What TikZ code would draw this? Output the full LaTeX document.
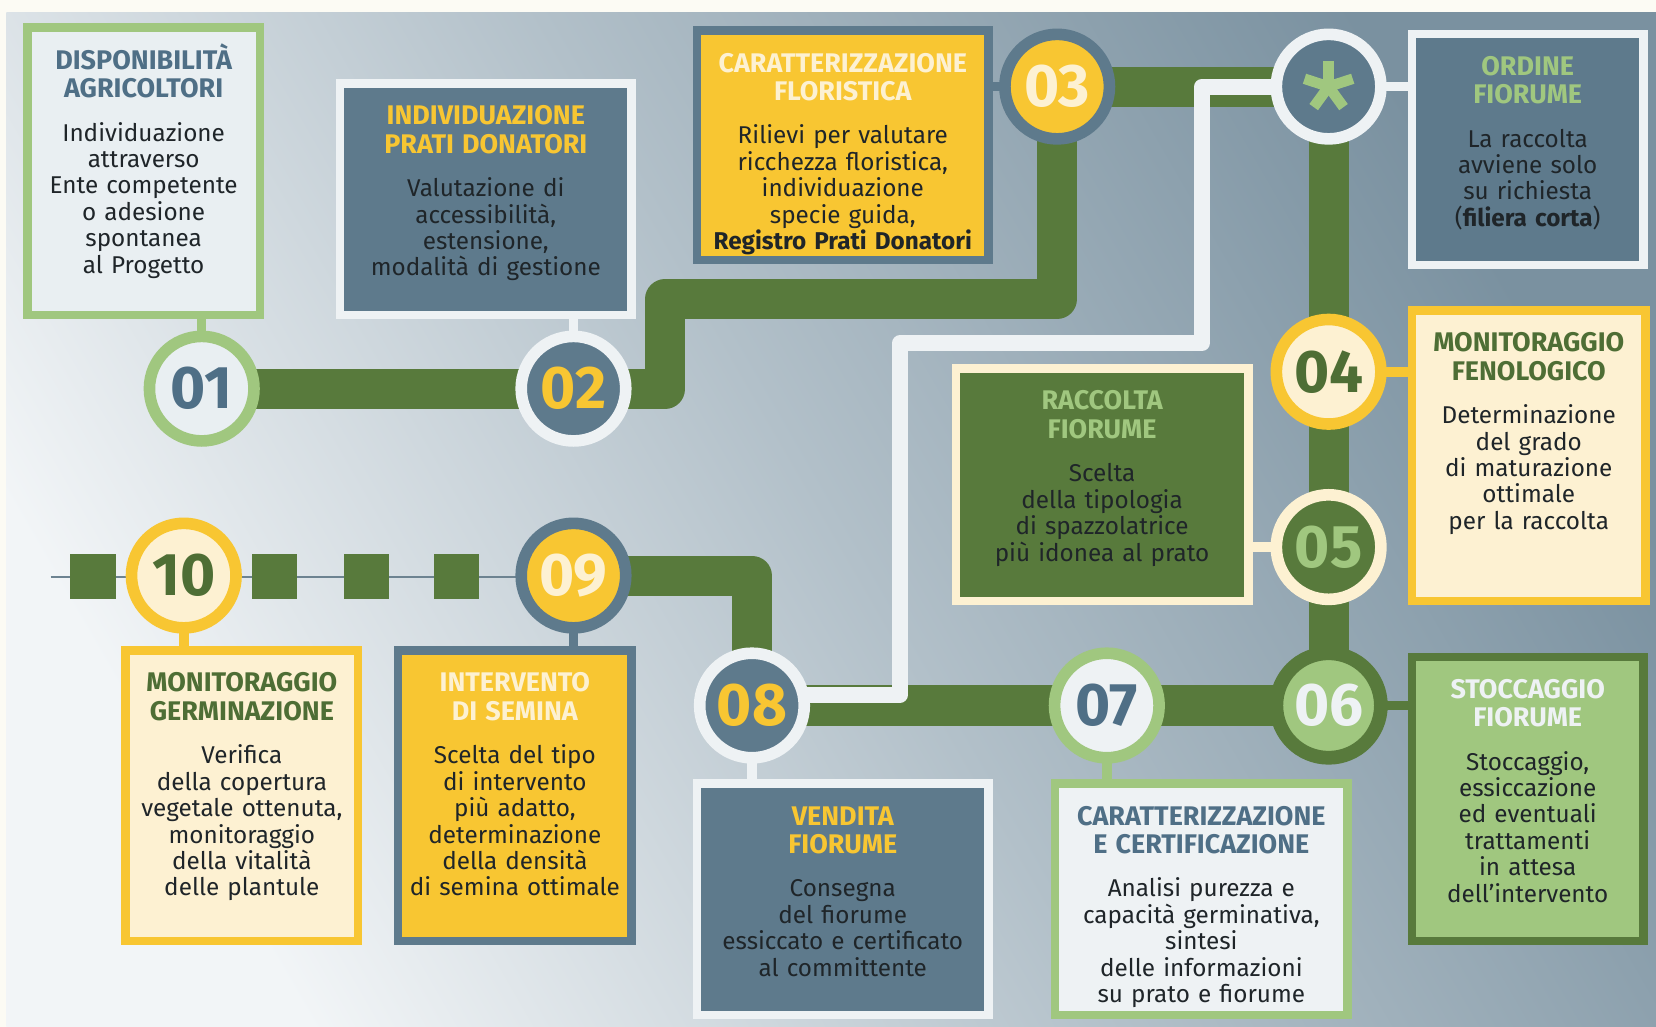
\documentclass[tikz,border=0pt]{standalone}
\usepackage{fontspec}
\setmainfont{Fira Sans}
\newfontfamily\numfont{Fira Sans}
\definecolor{slate}{HTML}{5E7A8C}
\definecolor{slatetxt}{HTML}{4F6F86}
\definecolor{yel}{HTML}{F8C632}
\definecolor{cream}{HTML}{FDF1D2}
\definecolor{dgreen}{HTML}{587A3C}
\definecolor{dgreentxt}{HTML}{4E6E35}
\definecolor{lgreen}{HTML}{A0C77F}
\definecolor{pale}{HTML}{E9EFF2}
\definecolor{paleb}{HTML}{EEF2F4}
\definecolor{bodyc}{HTML}{1F2529}
\definecolor{bgA}{HTML}{F2F5F7}
\definecolor{bgM}{HTML}{B2C0C9}
\definecolor{bgB}{HTML}{7A91A0}
\definecolor{trackc}{HTML}{6D8391}
\tikzset{
  pipe/.style={line width=38pt, draw=dgreen, line join=round},
  wpipe/.style={line width=15pt, draw=paleb, line join=round},
  stub/.style={line width=9pt},
  num/.style={circle, minimum size=99pt, line width=11pt, inner sep=0pt,
    font=\numfont\bfseries\fontsize{57}{57}\selectfont},
  card/.style={rectangle, line width=8pt, inner sep=0pt},
  txt/.style={anchor=north, inner sep=0pt, align=center, text width=280pt,
    text=bodyc, font=\fontsize{23}{25}\selectfont},
  sq/.style={rectangle, fill=dgreen, minimum size=43pt, inner sep=0pt},
  track/.style={line width=2pt, draw=trackc}
}
\newcommand{\cardtext}[5]{\node[txt] (#1) at ([yshift=-19pt]#2.north)
  {{\fontsize{25.5}{27}\selectfont\color{#3}\bfseries\rule{0pt}{24pt}#4\par}\vspace{16pt}#5\par};}
\begin{document}
\begin{tikzpicture}[x=1pt,y=-1pt]
\useasboundingbox (0,0) rectangle (1568,972);
\fill[white!95!olive!60!white] (0,0) rectangle (1568,972);
\shade[top color=bgB, bottom color=bgA, middle color=bgM, shading angle=-60] (6,12) rectangle (1568,972);

% circles positions
\coordinate (p01) at (191,368);
\coordinate (p02) at (543,368);
\coordinate (p03) at (1001,82);
\coordinate (pst) at (1258,82);
\coordinate (p04) at (1258,352);
\coordinate (p05) at (1258,518);
\coordinate (p06) at (1258,668);
\coordinate (p07) at (1048,668);
\coordinate (p08) at (712,668);
\coordinate (p09) at (543,545);
\coordinate (p10) at (174,545);

% cards
\node[card, draw=lgreen, fill=pale, minimum width=220pt, minimum height=272pt] (b1) at (136,162) {};
\node[card, draw=paleb, fill=slate, minimum width=276pt, minimum height=219pt] (b2) at (460,188.5) {};
\node[card, draw=slate, fill=yel, minimum width=276pt, minimum height=217pt] (b3) at (798,137.5) {};
\node[card, draw=paleb, fill=slate, minimum width=219pt, minimum height=219pt] (bo) at (1446.5,141.5) {};
\node[card, draw=yel, fill=cream, minimum width=221pt, minimum height=275pt] (b4) at (1447.5,431.5) {};
\node[card, draw=cream, fill=dgreen, minimum width=277pt, minimum height=220pt] (b5) at (1043.5,459) {};
\node[card, draw=dgreen, fill=lgreen, minimum width=219pt, minimum height=269pt] (b6) at (1446.5,756.5) {};
\node[card, draw=lgreen, fill=paleb, minimum width=277pt, minimum height=219pt] (b7) at (1137.5,851.5) {};
\node[card, draw=paleb, fill=slate, minimum width=276pt, minimum height=219pt] (b8) at (798,851.5) {};
\node[card, draw=slate, fill=yel, minimum width=221pt, minimum height=275pt] (b9) at (487.5,753.5) {};
\node[card, draw=yel, fill=cream, minimum width=220pt, minimum height=275pt] (b10) at (229,753.5) {};

% stubs
\draw[stub, lgreen] (p01) -- (p01 |- b1.south);
\draw[stub, paleb] (p02) -- (p02 |- b2.south);
\draw[stub, slate] (p03) -- (p03 -| b3.east);
\draw[stub, paleb] (pst) -- (pst -| bo.west);
\draw[stub, yel] (p04) -- (p04 -| b4.west);
\draw[stub, cream] (p05) -- (p05 -| b5.east);
\draw[stub, dgreen] (p06) -- (p06 -| b6.west);
\draw[stub, lgreen] (p07) -- (p07 |- b7.north);
\draw[stub, paleb] (p08) -- (p08 |- b8.north);
\draw[stub, slate] (p09) -- (p09 |- b9.north);
\draw[stub, yel] (p10) -- (p10 |- b10.north);

% pipes
\coordinate (g1) at (630,283);
\draw[pipe] (p01) -- (p02);
\draw[pipe] (p02) -| (g1) -| (p03);
\draw[pipe] (p03) -- (pst);
\draw[pipe] (pst) -- (p06);
\draw[pipe] (p06) -- (p08);
\draw[pipe] (p08) |- (p09);
\coordinate (w1) at (1138,325);
\coordinate (w2) at (852,658);
\draw[wpipe] (pst) -| (w1) -| (w2) -- (w2 -| p08);

% track
\coordinate (tr) at (48,546);
\draw[track] (tr) -- (tr -| p09);
\node[sq] (s1) at (88,546) {};
\node[sq] (s2) at (260,546) {};
\node[sq] (s3) at (347,546) {};
\node[sq] (s4) at (432,546) {};

% circles
\node[num, draw=lgreen, fill=pale, text=slatetxt] (c01) at (p01) {01};
\node[num, draw=paleb, fill=slate, text=yel] (c02) at (p02) {02};
\node[num, draw=slate, fill=yel, text=cream] (c03) at (p03) {03};
\node[num, draw=paleb, fill=slate] (cst) at (pst) {};
\foreach \a in {270,342,54,126,198} \draw[line width=10pt, lgreen] (cst.center) -- ++(\a:24);
\node[num, draw=yel, fill=cream, text=dgreentxt] (c04) at (p04) {04};
\node[num, draw=cream, fill=dgreen, text=lgreen] (c05) at (p05) {05};
\node[num, draw=dgreen, fill=lgreen, text=paleb, line width=13pt] (c06) at (p06) {06};
\node[num, draw=lgreen, fill=paleb, text=slatetxt] (c07) at (p07) {07};
\node[num, draw=paleb, fill=slate, text=yel] (c08) at (p08) {08};
\node[num, draw=slate, fill=yel, text=cream] (c09) at (p09) {09};
\node[num, draw=yel, fill=cream, text=dgreentxt] (c10) at (p10) {10};

% texts
\cardtext{t1}{b1}{slatetxt}{DISPONIBILITÀ\\AGRICOLTORI}{Individuazione\\attraverso\\Ente competente\\o adesione\\spontanea\\al Progetto}
\cardtext{t2}{b2}{yel}{INDIVIDUAZIONE\\PRATI DONATORI}{Valutazione di\\accessibilità,\\estensione,\\modalità di gestione}
\cardtext{t3}{b3}{cream}{CARATTERIZZAZIONE\\FLORISTICA}{Rilievi per valutare\\ricchezza floristica,\\individuazione\\specie guida,\\\textbf{Registro Prati Donatori}}
\cardtext{to}{bo}{lgreen}{ORDINE\\FIORUME}{La raccolta\\avviene solo\\su richiesta\\(\textbf{filiera corta})}
\cardtext{t4}{b4}{dgreentxt}{MONITORAGGIO\\FENOLOGICO}{Determinazione\\del grado\\di maturazione\\ottimale\\per la raccolta}
\cardtext{t5}{b5}{lgreen}{RACCOLTA\\FIORUME}{Scelta\\della tipologia\\di spazzolatrice\\più idonea al prato}
\cardtext{t6}{b6}{paleb}{STOCCAGGIO\\FIORUME}{Stoccaggio,\\essiccazione\\ed eventuali\\trattamenti\\in attesa\\dell'intervento}
\cardtext{t7}{b7}{slatetxt}{CARATTERIZZAZIONE\\E CERTIFICAZIONE}{Analisi purezza e\\capacità germinativa,\\sintesi\\delle informazioni\\su prato e fiorume}
\cardtext{t8}{b8}{yel}{VENDITA\\FIORUME}{Consegna\\del fiorume\\essiccato e certificato\\al committente}
\cardtext{t9}{b9}{cream}{INTERVENTO\\DI SEMINA}{Scelta del tipo\\di intervento\\più adatto,\\determinazione\\della densità\\di semina ottimale}
\cardtext{t10}{b10}{dgreentxt}{MONITORAGGIO\\GERMINAZIONE}{Verifica\\della copertura\\vegetale ottenuta,\\monitoraggio\\della vitalità\\delle plantule}
\end{tikzpicture}
\end{document}
